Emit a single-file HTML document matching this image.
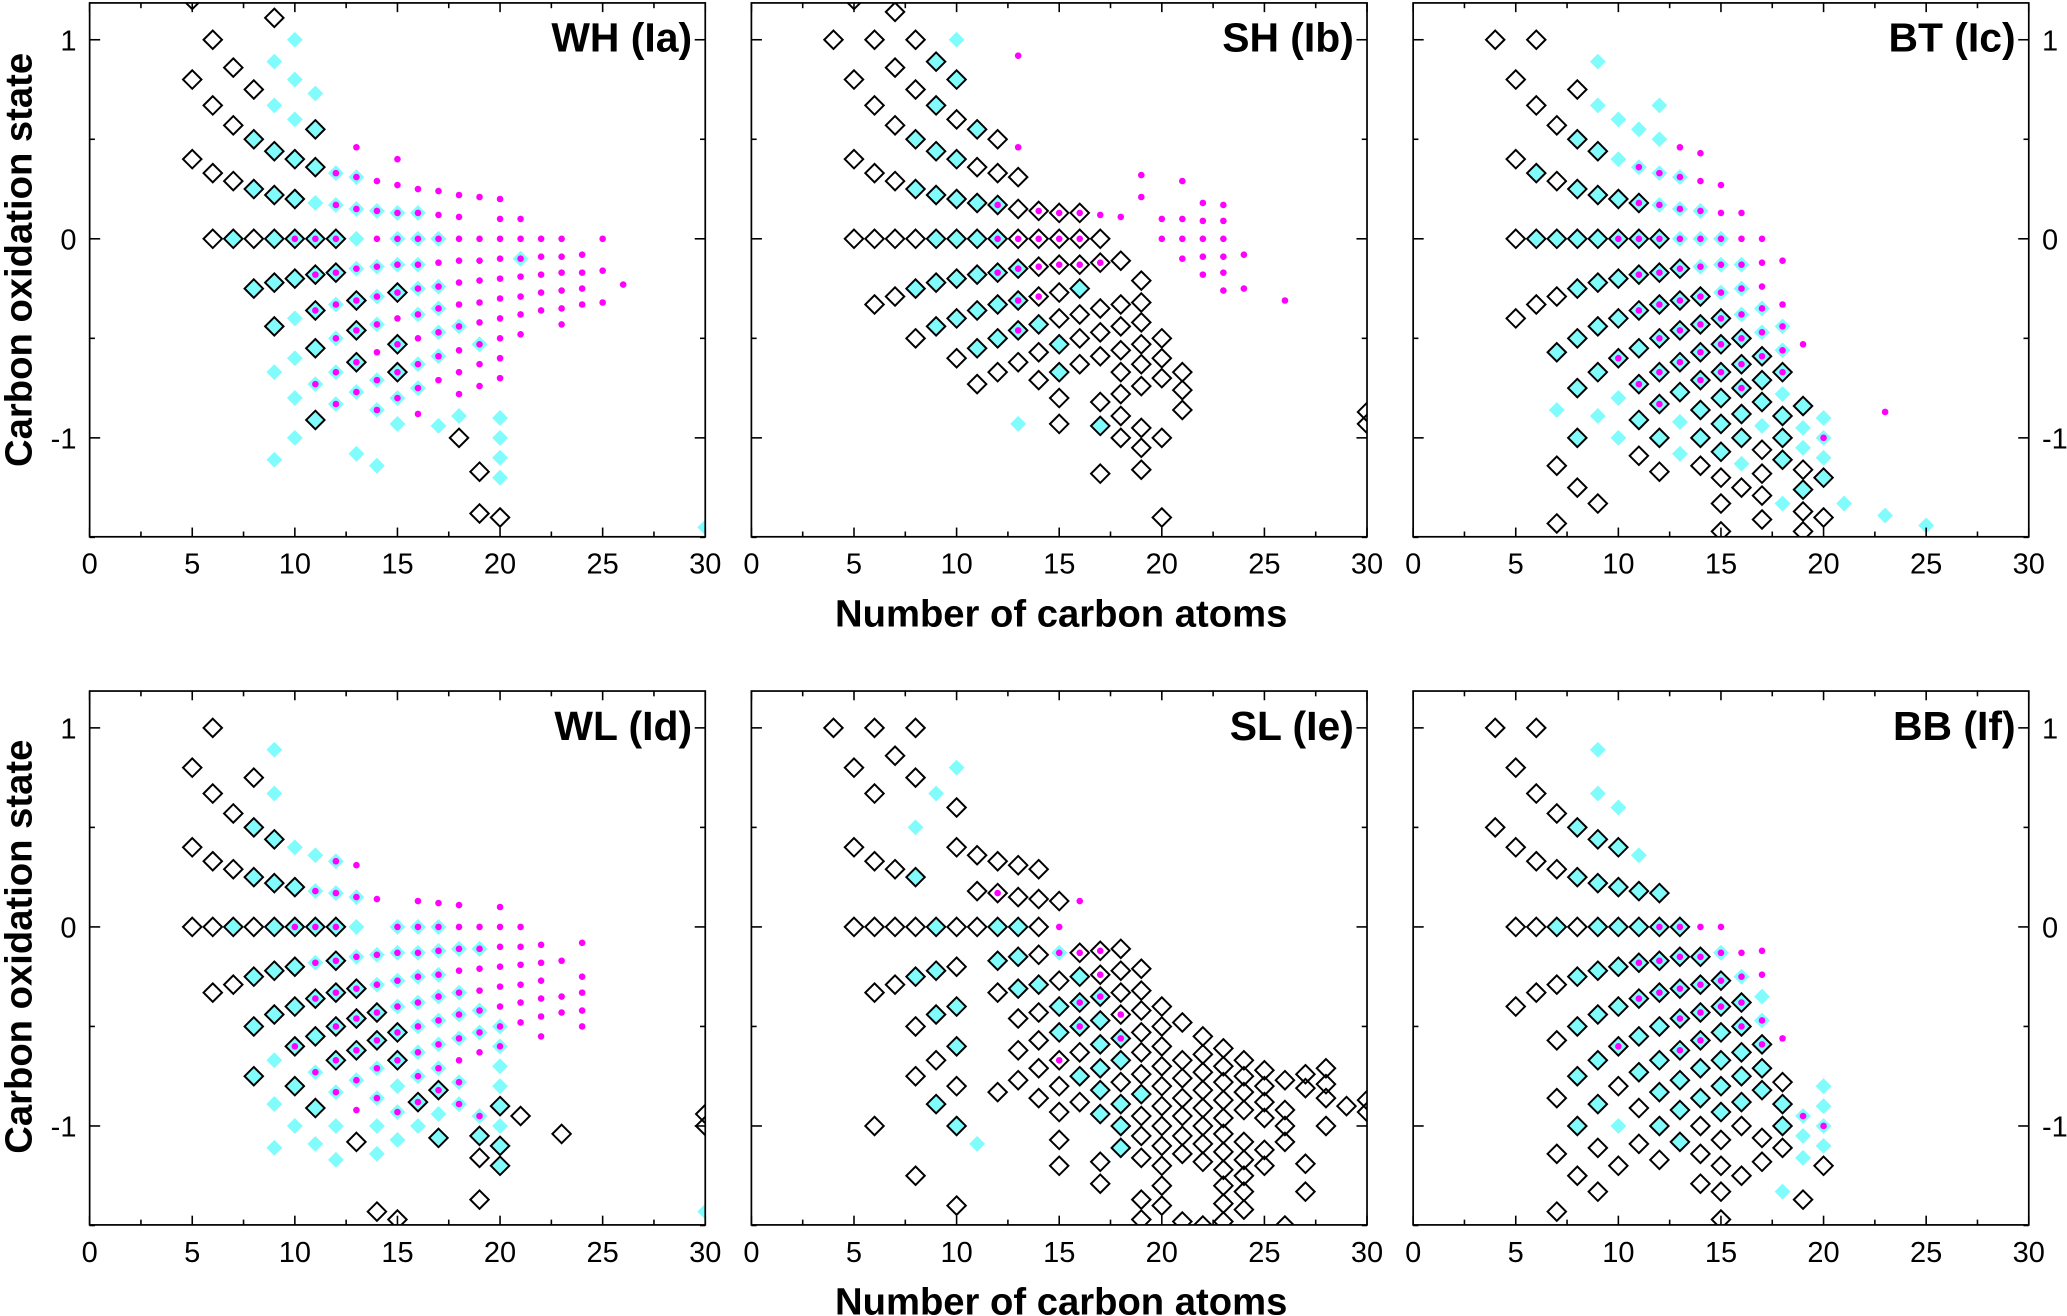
<!DOCTYPE html>
<html><head><meta charset="utf-8"><style>
html,body{margin:0;padding:0;background:#fff;}
svg{display:block;}
text{font-family:"Liberation Sans",sans-serif;}
</style></head><body>
<svg id="fig" width="2067" height="1316" viewBox="0 0 1568 998" xmlns="http://www.w3.org/2000/svg"></svg>
<script>
// Data: each series = columns of [carbonNumber, [oxidation states]]
const panelNames = ["WH (Ia)","SH (Ib)","BT (Ic)","WL (Id)","SL (Ie)","BB (If)"];
const xTicks = [0,5,10,15,20,25,30];
const yTicks = [1,0,-1];
const yTickLabels = ["1","0","-1"];

const iaBlack=[[5,[1.2,.8,.4]],[6,[1,.67,.33,0]],[7,[.86,.57,.29,0]],[8,[.75,.5,.25,0,-.25]],[9,[1.11,.44,.22,0,-.22,-.44]],[10,[.4,.2,0,-.2]],[11,[.55,.36,0,-.18,-.36,-.55,-.91]],[12,[0,-.17]],[13,[-.31,-.46,-.62]],[15,[-.27,-.53,-.67]],[18,[-1]],[19,[-1.17,-1.38]],[20,[-1.4]]];
const iaCyan=[[7,[0]],[8,[.5,.25,-.25]],[9,[.89,.67,.44,.22,0,-.22,-.44,-.67,-1.11]],[10,[1,.8,.6,.4,.2,0,-.2,-.4,-.6,-.8,-1]],[11,[.73,.55,.36,.18,0,-.18,-.36,-.55,-.73,-.91]],[12,[.33,.17,0,-.17,-.33,-.5,-.67,-.83]],[13,[.31,.15,0,-.15,-.31,-.46,-.62,-.77,-1.08]],[14,[.14,-.14,-.29,-.43,-.71,-.86,-1.14]],[15,[.13,0,-.13,-.27,-.53,-.67,-.8,-.93]],[16,[.13,0,-.13,-.25,-.38,-.63,-.75]],[17,[0,-.24,-.35,-.47,-.59,-.94]],[18,[-.44,-.89]],[19,[-.53]],[20,[-.9,-1,-1.1,-1.2]],[21,[-.1]],[30,[-1.45]]];
const iaMag=[[10,[0]],[11,[0,-.18,-.36,-.73]],[12,[.33,.17,0,-.17,-.33,-.5,-.67,-.83]],[13,[.46,.31,.15,-.15,-.31,-.46,-.62,-.77]],[14,[.29,.14,0,-.14,-.29,-.43,-.57,-.71,-.86]],[15,[.4,.27,.13,0,-.13,-.27,-.4,-.53,-.67,-.8]],[16,[.25,.13,0,-.13,-.25,-.38,-.5,-.63,-.75,-.88]],[17,[.24,.12,0,-.12,-.24,-.35,-.47,-.59,-.71]],[18,[.22,.11,0,-.11,-.22,-.33,-.44,-.56,-.67,-.78]],[19,[.21,0,-.11,-.21,-.32,-.42,-.53,-.63,-.74]],[20,[.2,.1,0,-.1,-.2,-.3,-.4,-.5,-.6,-.7]],[21,[.1,0,-.1,-.19,-.29,-.38,-.48]],[22,[0,-.09,-.18,-.27,-.36]],[23,[0,-.09,-.17,-.26,-.35,-.43]],[24,[-.08,-.17,-.25,-.33]],[25,[0,-.16,-.32]],[26,[-.23]]];

const ibBlack=[[4,[1]],[5,[1.2,.8,.4,0]],[6,[1,.67,.33,0,-.33]],[7,[1.14,.86,.57,.29,0,-.29]],[8,[1,.75,.5,.25,0,-.25,-.5]],[9,[.89,.67,.44,.22,0,-.22,-.44]],[10,[.8,.6,.4,.2,0,-.2,-.4,-.6]],[11,[.55,.36,.18,0,-.18,-.36,-.55,-.73]],[12,[.5,.33,.17,0,-.17,-.33,-.5,-.67]],[13,[.31,.15,0,-.15,-.31,-.46,-.62]],[14,[.14,0,-.14,-.29,-.43,-.57,-.71]],[15,[.13,0,-.13,-.27,-.4,-.53,-.67,-.8,-.93]],[16,[.13,0,-.13,-.25,-.38,-.5,-.63]],[17,[0,-.12,-.35,-.47,-.59,-.82,-.94,-1.18]],[18,[-.11,-.33,-.44,-.56,-.67,-.78,-.89,-1]],[19,[-.21,-.32,-.42,-.53,-.63,-.74,-.95,-1.05,-1.16]],[20,[-.5,-.6,-.7,-1,-1.4]],[21,[-.67,-.76,-.86]],[30,[-.87,-.93]]];
const ibCyan=[[8,[.5,.25,-.25]],[9,[.89,.67,.44,.22,0,-.22,-.44]],[10,[1,.8,.4,.2,0,-.2,-.4]],[11,[.55,.18,0,-.18,-.36,-.55]],[12,[.17,0,-.17,-.33,-.5]],[13,[-.15,-.31,-.46,-.93]],[14,[-.43]],[15,[-.53,-.67]],[16,[-.25]],[17,[-.94]]];
const ibMag=[[12,[.17,0,-.17]],[13,[.92,.46,0,-.15,-.31,-.46]],[14,[.14,0,-.14,-.29]],[15,[.13,0,-.13]],[16,[.13,0,-.13]],[17,[.12,-.12]],[18,[.11]],[19,[.32,.21]],[20,[.1,0]],[21,[.29,.1,0,-.1]],[22,[.18,.09,0,-.09,-.18]],[23,[.17,.09,0,-.09,-.17,-.26]],[24,[-.08,-.25]],[26,[-.31]]];

const icBlack=[[4,[1]],[5,[.8,.4,0,-.4]],[6,[1,.67,.33,0,-.33]],[7,[.57,.29,0,-.29,-.57,-1.14,-1.43]],[8,[.75,.5,.25,0,-.25,-.5,-.75,-1,-1.25]],[9,[.44,.22,0,-.22,-.44,-.67,-1.33]],[10,[.2,0,-.2,-.4,-.6]],[11,[.18,0,-.18,-.36,-.55,-.73,-.91,-1.09]],[12,[0,-.17,-.33,-.5,-.67,-.83,-1,-1.17]],[13,[-.15,-.31,-.46,-.62,-.77]],[14,[-.29,-.43,-.57,-.71,-.86,-1,-1.14]],[15,[-.4,-.53,-.67,-.8,-.93,-1.07,-1.2,-1.33,-1.47]],[16,[-.5,-.63,-.75,-.88,-1,-1.25]],[17,[-.59,-.71,-.82,-1.06,-1.18,-1.29,-1.41]],[18,[-.67,-.89,-1,-1.11]],[19,[-.84,-1.16,-1.26,-1.37,-1.47]],[20,[-1.2,-1.4]]];
const icCyan=[[6,[.33,0]],[7,[0,-.57,-.86]],[8,[.5,.25,0,-.25,-.5,-.75,-1]],[9,[.89,.67,.44,.22,0,-.22,-.44,-.67,-.89]],[10,[.6,.4,.2,0,-.2,-.4,-.6,-.8,-1]],[11,[.55,.36,.18,0,-.18,-.36,-.55,-.73,-.91]],[12,[.67,.5,.33,.17,0,-.17,-.33,-.5,-.67,-.83,-1]],[13,[.31,.15,0,-.15,-.31,-.46,-.62,-.77,-.92,-1.08]],[14,[.14,0,-.14,-.29,-.43,-.57,-.71,-.86,-1]],[15,[0,-.13,-.27,-.4,-.53,-.67,-.8,-.93,-1.07]],[16,[-.13,-.25,-.38,-.5,-.63,-.75,-.88,-1,-1.13]],[17,[-.35,-.47,-.59,-.71,-.82,-.94]],[18,[-.44,-.56,-.67,-.78,-.89,-1,-1.11,-1.33]],[19,[-.84,-.95,-1.05,-1.26]],[20,[-.9,-1,-1.1,-1.2]],[21,[-1.33]],[23,[-1.39]],[25,[-1.44]]];
const icMag=[[10,[0,-.6]],[11,[.36,.18,0,-.18,-.36,-.73]],[12,[.33,.17,0,-.17,-.33,-.5,-.67,-.83]],[13,[.46,.31,.15,0,-.15,-.31,-.46,-.62]],[14,[.43,.29,.14,0,-.14,-.29,-.43,-.57,-.71]],[15,[.27,.13,0,-.13,-.27,-.4,-.53,-.67]],[16,[.13,0,-.13,-.25,-.38,-.5,-.63,-.75]],[17,[0,-.12,-.24,-.35,-.47,-.59]],[18,[-.11,-.33,-.44,-.56,-.67]],[19,[-.53]],[20,[-1]],[23,[-.87]]];

const idBlack=[[5,[.8,.4,0]],[6,[1,.67,.33,0,-.33]],[7,[.57,.29,0,-.29]],[8,[.75,.5,.25,0,-.25,-.5,-.75]],[9,[.44,.22,0,-.22,-.44]],[10,[.2,0,-.2,-.4,-.6,-.8]],[11,[0,-.36,-.55,-.91]],[12,[0,-.17,-.33,-.5,-.67]],[13,[-.31,-.46,-.62,-1.08]],[14,[-.43,-.57,-1.43]],[15,[-.53,-.67,-1.47]],[16,[-.88]],[17,[-.82,-1.06]],[19,[-1.05,-1.16,-1.37]],[20,[-.9,-1.1,-1.2]],[21,[-.95]],[23,[-1.04]],[30,[-.94,-1]]];
const idCyan=[[7,[0]],[8,[.5,.25,-.25,-.5,-.75]],[9,[.89,.67,.44,.22,0,-.22,-.44,-.67,-.89,-1.11]],[10,[.4,.2,0,-.2,-.4,-.6,-.8,-1]],[11,[.36,.18,0,-.18,-.36,-.55,-.73,-.91,-1.09]],[12,[.33,.17,0,-.17,-.33,-.5,-.67,-.83,-1,-1.17]],[13,[.15,0,-.15,-.31,-.46,-.62,-.77]],[14,[-.14,-.29,-.43,-.57,-.71,-.86,-1,-1.14]],[15,[0,-.13,-.27,-.4,-.53,-.67,-.8,-.93,-1.07]],[16,[0,-.13,-.25,-.38,-.5,-.63,-.75,-.88,-1]],[17,[0,-.12,-.24,-.35,-.47,-.59,-.71,-.82,-.94,-1.06]],[18,[-.11,-.33,-.44,-.56,-.78,-.89]],[19,[-.11,-.42,-.53,-.95,-1.05]],[20,[-.5,-.6,-.7,-.8,-.9,-1,-1.1,-1.2]],[30,[-1.43]]];
const idMag=[[10,[0,-.6]],[11,[.18,0,-.18,-.36,-.73]],[12,[.33,.17,0,-.17,-.33,-.5,-.67,-.83]],[13,[.31,.15,-.15,-.31,-.46,-.62,-.77,-.92]],[14,[.14,-.14,-.29,-.43,-.57,-.71,-.86]],[15,[0,-.13,-.27,-.4,-.53,-.67,-.93]],[16,[.13,0,-.13,-.25,-.38,-.5,-.63,-.75,-.88]],[17,[.12,0,-.12,-.24,-.35,-.47,-.59,-.71,-.82]],[18,[.11,0,-.11,-.22,-.33,-.44,-.56,-.67,-.78,-.89]],[19,[0,-.11,-.21,-.32,-.42,-.53,-.63,-.95]],[20,[.1,0,-.1,-.2,-.3,-.4,-.5,-.6]],[21,[0,-.1,-.19,-.29,-.38,-.48]],[22,[-.09,-.18,-.27,-.36,-.45,-.55]],[23,[-.17,-.35,-.43]],[24,[-.08,-.25,-.33,-.42,-.5]]];

const ieBlack=[[4,[1]],[5,[.8,.4,0]],[6,[1,.67,.33,0,-.33,-1]],[7,[.86,.29,0,-.29]],[8,[1,.75,.25,0,-.25,-.5,-.75,-1.25]],[9,[0,-.22,-.44,-.67,-.89]],[10,[.6,.4,0,-.2,-.4,-.6,-.8,-1,-1.4]],[11,[.36,.18,0]],[12,[.33,.17,0,-.17,-.33,-.83]],[13,[.31,.15,0,-.15,-.31,-.46,-.62,-.77]],[14,[.29,.14,0,-.14,-.29,-.43,-.57,-.71,-.86]],[15,[.13,-.27,-.4,-.53,-.67,-.8,-.93,-1.07,-1.2]],[16,[-.13,-.25,-.38,-.5,-.63,-.75,-.88]],[17,[-.12,-.24,-.35,-.47,-.59,-.71,-.82,-.94,-1.18,-1.29]],[18,[-.11,-.22,-.33,-.44,-.56,-.67,-.78,-.89,-1,-1.11]],[19,[-.21,-.32,-.42,-.53,-.63,-.74,-.84,-.95,-1.05,-1.16,-1.37,-1.47]],[20,[-.4,-.5,-.6,-.7,-.8,-.9,-1,-1.1,-1.2,-1.3,-1.4]],[21,[-.48,-.67,-.76,-.86,-.95,-1.05,-1.14,-1.48]],[22,[-.55,-.64,-.73,-.82,-.91,-1,-1.09,-1.18,-1.5]],[23,[-.61,-.7,-.78,-.87,-.96,-1.04,-1.13,-1.22,-1.3,-1.39,-1.48]],[24,[-.67,-.75,-.83,-.92,-1.08,-1.17,-1.25,-1.33,-1.42]],[25,[-.72,-.8,-.88,-.96,-1.12,-1.2]],[26,[-.77,-.92,-1,-1.08,-1.5]],[27,[-.74,-.81,-1.19,-1.33]],[28,[-.71,-.79,-.86,-1]],[29,[-.9]],[30,[-.87,-.93]]];
const ieCyan=[[8,[.5,.25,-.25]],[9,[.67,0,-.22,-.44,-.89]],[10,[.8,-.4,-.6,-1]],[11,[-1.09]],[12,[0,-.17]],[13,[0,-.15,-.31]],[14,[-.29]],[15,[-.13,-.4,-.53]],[16,[-.25,-.38,-.5,-.75]],[17,[-.35,-.47,-.59,-.71,-.82,-.94]],[18,[-.56,-.67,-.89,-1,-1.11]],[19,[-.84]]];
const ieMag=[[12,[.17]],[15,[0,-.13,-.67]],[16,[.13,-.13,-.38,-.5]],[17,[-.12,-.24,-.35]],[18,[-.44,-.56]]];

const ifBlack=[[4,[1,.5]],[5,[.8,.4,0,-.4]],[6,[1,.67,.33,0,-.33]],[7,[.57,.29,0,-.29,-.57,-.86,-1.14,-1.43]],[8,[.5,.25,0,-.25,-.5,-.75,-1,-1.25]],[9,[.44,.22,0,-.22,-.44,-.67,-.89,-1.11,-1.33]],[10,[.4,.2,0,-.2,-.4,-.6,-.8,-1.2]],[11,[.18,0,-.18,-.36,-.55,-.73,-.91,-1.09]],[12,[.17,0,-.17,-.33,-.5,-.67,-.83,-1,-1.17]],[13,[0,-.15,-.31,-.46,-.62,-.77,-.92,-1.08]],[14,[-.15,-.29,-.43,-.57,-.71,-.86,-1,-1.14,-1.29]],[15,[-.27,-.4,-.53,-.67,-.8,-.93,-1.07,-1.2,-1.33,-1.47]],[16,[-.38,-.5,-.63,-.75,-.88,-1,-1.25]],[17,[-.59,-.71,-.82,-1.06,-1.18]],[18,[-.78,-.89,-1,-1.11]],[19,[-1.37]],[20,[-1.2]]];
const ifCyan=[[7,[0]],[8,[.5,.25,-.25,-.5,-.75,-1]],[9,[.89,.67,.44,.22,0,-.22,-.44,-.67,-.89]],[10,[.6,.4,.2,0,-.2,-.4,-.6,-1]],[11,[.36,.18,0,-.18,-.36,-.55,-.73]],[12,[.17,0,-.17,-.33,-.5,-.67,-.83,-1]],[13,[0,-.15,-.31,-.46,-.62,-.77,-.92,-1.08]],[14,[-.15,-.29,-.43,-.57,-.71,-.86]],[15,[-.13,-.27,-.4,-.53,-.67,-.8,-.93]],[16,[-.25,-.38,-.5,-.63,-.75,-.88]],[17,[-.35,-.47,-.59,-.71,-.82]],[18,[-.89,-1,-1.33]],[19,[-.95,-1.05,-1.16]],[20,[-.8,-.9,-1,-1.1]]];
const ifMag=[[10,[-.6]],[11,[-.18,-.36]],[12,[0,-.17,-.33]],[13,[0,-.15,-.31,-.46,-.62]],[14,[0,-.15,-.29,-.43,-.57]],[15,[0,-.13,-.27,-.4]],[16,[-.13,-.25,-.38,-.5]],[17,[-.12,-.24,-.47,-.59]],[18,[-.56]],[19,[-.95]],[20,[-1]]];

const panelBlack=[iaBlack,ibBlack,icBlack,idBlack,ieBlack,ifBlack];
const panelCyan=[iaCyan,ibCyan,icCyan,idCyan,ieCyan,ifCyan];
const panelMag=[iaMag,ibMag,icMag,idMag,ieMag,ifMag];

const NS="http://www.w3.org/2000/svg";
const svg=document.getElementById('fig');
function mk(tag,attrs,parent){const e=document.createElementNS(NS,tag);for(const k in attrs)e.setAttribute(k,attrs[k]);(parent||svg).appendChild(e);return e;}

const colX=[68,570,1072], W=467;
const rowZero=[181,703], PPU=151, YMAX=1.185, YMIN=-1.497;
const XMIN=0,XMAX=30;

for(let p=0;p<6;p++){
  const col=p%3,row=Math.floor(p/3);
  const x0=colX[col];
  const yTop=rowZero[row]-YMAX*PPU, yBot=rowZero[row]-YMIN*PPU;
  const sx=v=>x0+(v-XMIN)/(XMAX-XMIN)*W;
  const sy=v=>rowZero[row]-v*PPU;
  const g=mk('g',{});
  
  
  const cid='clip'+p;
  const cp=mk('clipPath',{id:cid},g);
  mk('rect',{x:x0,y:yTop,width:W,height:yBot-yTop},cp);
  const pts=mk('g',{'clip-path':'url(#'+cid+')'},g);
  
  
  panelCyan[p].forEach(([c,ys])=>ys.forEach(v=>{
    const X=sx(c),Y=sy(v),h=6;
    const e=mk('path',{d:`M${X},${Y-h}L${X+h},${Y}L${X},${Y+h}L${X-h},${Y}Z`,fill:'#80fcfc'},pts);
    
    
  }));
  panelBlack[p].forEach(([c,ys])=>ys.forEach(v=>{
    const X=sx(c),Y=sy(v),h=7;
    const e=mk('path',{d:`M${X},${Y-h}L${X+h},${Y}L${X},${Y+h}L${X-h},${Y}Z`,fill:'none',stroke:'#000','stroke-width':1.5},pts);
    
    
  }));
  panelMag[p].forEach(([c,ys])=>ys.forEach(v=>{
    const e=mk('circle',{cx:sx(c),cy:sy(v),r:2.5,fill:'#ff00ff'},pts);
    
    
  }));
  const fr=mk('rect',{x:x0,y:yTop,width:W,height:yBot-yTop,fill:'none',stroke:'#000','stroke-width':1.3},g);
  
  
  for(let v=0;v<=30;v+=2.5){
    const X=sx(v),L=(v%5===0)?7:4;
    mk('line',{x1:X,x2:X,y1:yBot,y2:yBot-L,stroke:'#000','stroke-width':1.2},g);
    mk('line',{x1:X,x2:X,y1:yTop,y2:yTop+L,stroke:'#000','stroke-width':1.2},g);
  }
  xTicks.forEach(v=>{
    const t=mk('text',{x:sx(v),y:yBot+28,'text-anchor':'middle','font-size':22},g);
    t.textContent=String(v);
    
    
  });
  for(let v=-1.5;v<=1.01;v+=0.5){
    const Y=sy(v),L=(Math.abs(v%1)<0.01)?8:4;
    mk('line',{x1:x0,x2:x0+L,y1:Y,y2:Y,stroke:'#000','stroke-width':1.2},g);
    mk('line',{x1:x0+W,x2:x0+W-L,y1:Y,y2:Y,stroke:'#000','stroke-width':1.2},g);
  }
  if(col===0||col===2){
    yTicks.forEach((v,i)=>{
      const t=mk('text',{x:col===0?x0-10:x0+W+10,y:sy(v)+8,'text-anchor':col===0?'end':'start','font-size':22},g);
      t.textContent=yTickLabels[i];
      
      
    });
  }
  const tt=mk('text',{x:x0+W-10,y:yTop+37,'text-anchor':'end','font-size':31,'font-weight':'bold'},g);
  tt.textContent=panelNames[p];
  
  
}
[465,987].forEach(y=>{
  const t=mk('text',{x:805,y:y+10,'text-anchor':'middle','font-size':29,'font-weight':'bold'});
  t.textContent='Number of carbon atoms';
  
  
});
[197,718].forEach(y=>{
  const t=mk('text',{x:0,y:0,'text-anchor':'middle','font-size':29,'font-weight':'bold',transform:`translate(24,${y}) rotate(-90)`});
  t.textContent='Carbon oxidation state';
  
  
});
</script>
</body></html>
